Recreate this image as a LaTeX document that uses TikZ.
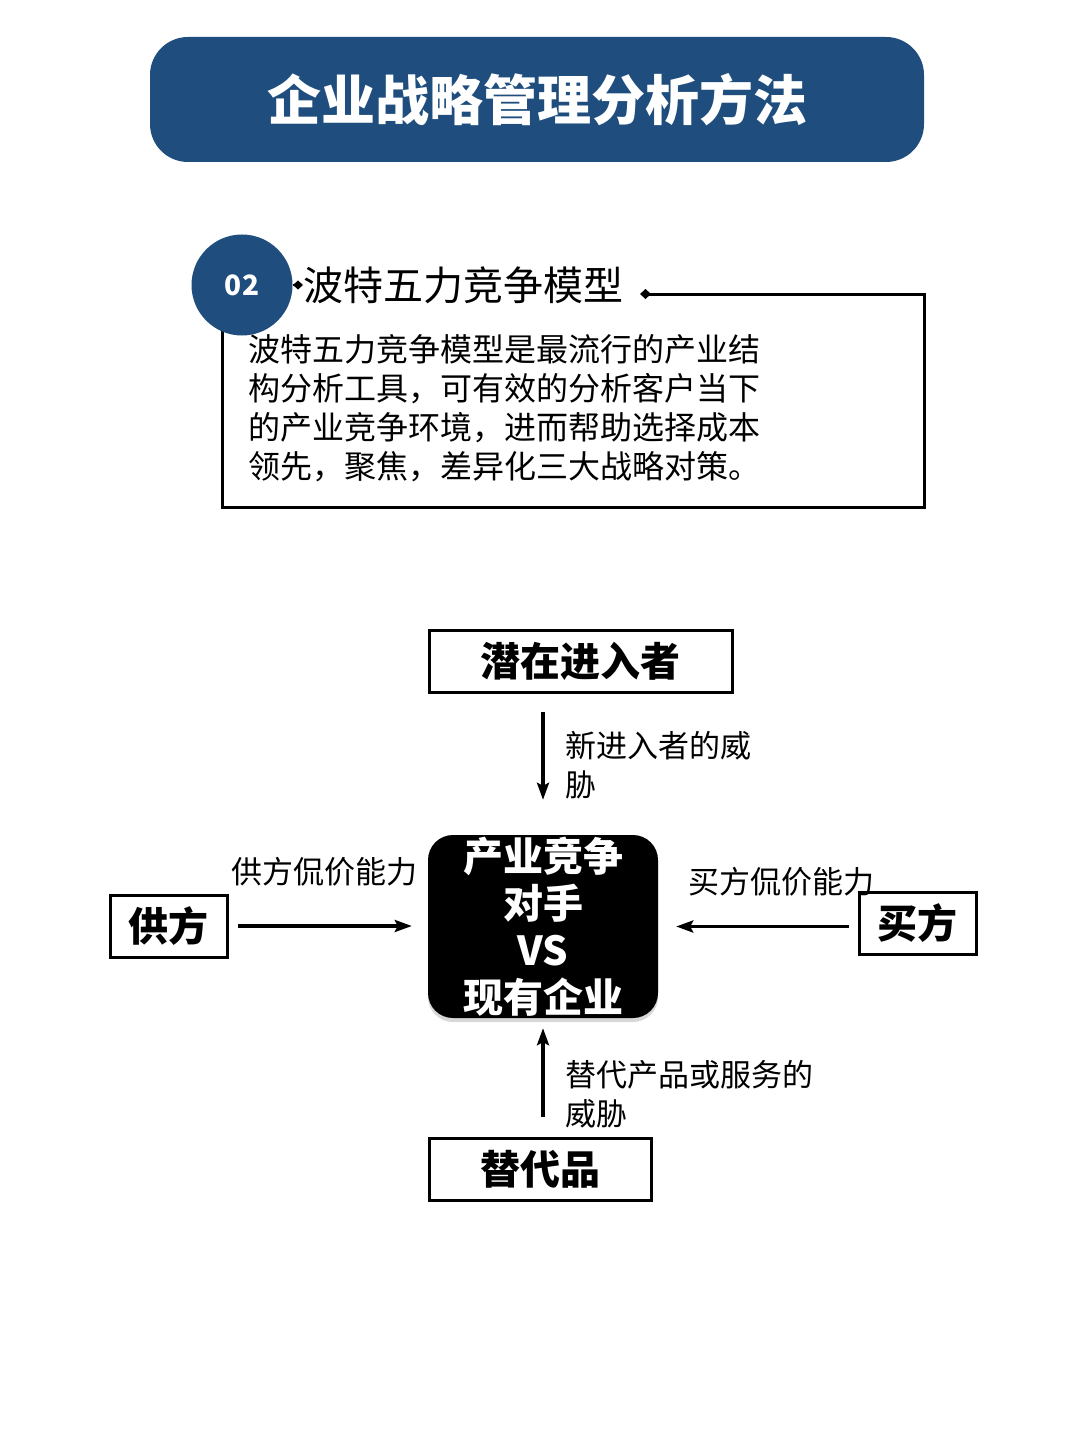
\documentclass[tikz,border=0pt]{standalone}
\usepackage{fontspec}
\setmainfont{Noto Sans CJK SC}
\usetikzlibrary{arrows.meta,shadows}
\definecolor{headblue}{RGB}{31,78,126}
\tikzset{
  frameline/.style={line width=3pt},
  forcebox/.style={draw, line width=3pt, minimum height=62pt, inner sep=0pt,
    font=\fontsize{40}{48}\selectfont\bfseries},
  forcearrow/.style={line width=3.4pt, -{Stealth[length=17pt,width=12pt,inset=3pt]}},
  forcelabel/.style={align=left, inner sep=0pt, font=\fontsize{31}{39}\selectfont},
}
\begin{document}
\begin{tikzpicture}[x=1pt,y=1pt]
\useasboundingbox[fill=white] (0,0) rectangle (1080,-1439);
\node[fill=headblue, rounded corners=38pt, minimum width=774pt, minimum height=125pt,
  text=white, font=\fontsize{54}{60}\selectfont\bfseries] (header) at (537,-99.5)
{企业战略管理分析方法};
\draw[frameline, {Diamond[length=11pt,width=10pt]}-] (640,-294) -- (924,-294)
  -- (924,-507) -- (222,-507) -- (222,-320);
\node[circle, fill=headblue, minimum size=101pt, text=white,
  font=\fontsize{28}{30}\selectfont\bfseries] (badge) at (242,-285) {02};
\node[anchor=west, inner sep=0pt, font=\fontsize{40}{48}\selectfont] (caption) at (303,-285)
{波特五力竞争模型};
\draw[line width=2.4pt, -{Diamond[length=10pt,width=9pt]}] (badge.east) -- (caption.west);
\node[anchor=north west, align=left, inner sep=0pt, font=\fontsize{32}{39}\selectfont] (body)
  at (248,-334)
{波特五力竞争模型是最流行的产业结\\构分析工具，可有效的分析客户当下\\的产业竞争环境，进而帮助选择成本\\领先，聚焦，差异化三大战略对策。};
\node[forcebox, minimum width=303pt] (entrant) at (580.5,-661) {潜在进入者};
\node[fill=black, rounded corners=25pt, minimum width=230pt, minimum height=183pt,
  inner sep=0pt, drop shadow={shadow xshift=0pt, shadow yshift=-4pt, opacity=0.3},
  text=white, align=center, font=\fontsize{40}{47}\selectfont\bfseries] (rival) at (543,-926.5)
{产业竞争\\对手\\VS\\现有企业};
\node[forcebox, minimum width=117pt] (supplier) at (168.5,-926) {供方};
\node[forcebox, minimum width=117pt] (buyer) at (917.5,-923) {买方};
\node[forcebox, minimum width=222pt] (substitute) at (540,-1169) {替代品};
\draw[forcearrow, shorten <=18pt, shorten >=35pt] (rival.north |- entrant.south) -- (rival.north);
\draw[forcearrow, shorten <=9pt, shorten >=16pt] (supplier.east) -- (supplier.east -| rival.west);
\draw[forcearrow, shorten <=9pt, shorten >=18pt] (buyer.west |- rival.east) -- (rival.east);
\draw[forcearrow, shorten <=20pt, shorten >=10pt] (rival.south |- substitute.north) -- (rival.south);
\node[forcelabel, anchor=north west] (entrantlbl) at (565,-731) {新进入者的威\\胁};
\node[forcelabel] (supplierlbl) at (324,-872) {供方侃价能力};
\node[forcelabel] (buyerlbl) at (781.5,-882) {买方侃价能力};
\node[forcelabel, anchor=north west] (substitutelbl) at (565,-1060) {替代产品或服务的\\威胁};
\end{tikzpicture}
\end{document}
